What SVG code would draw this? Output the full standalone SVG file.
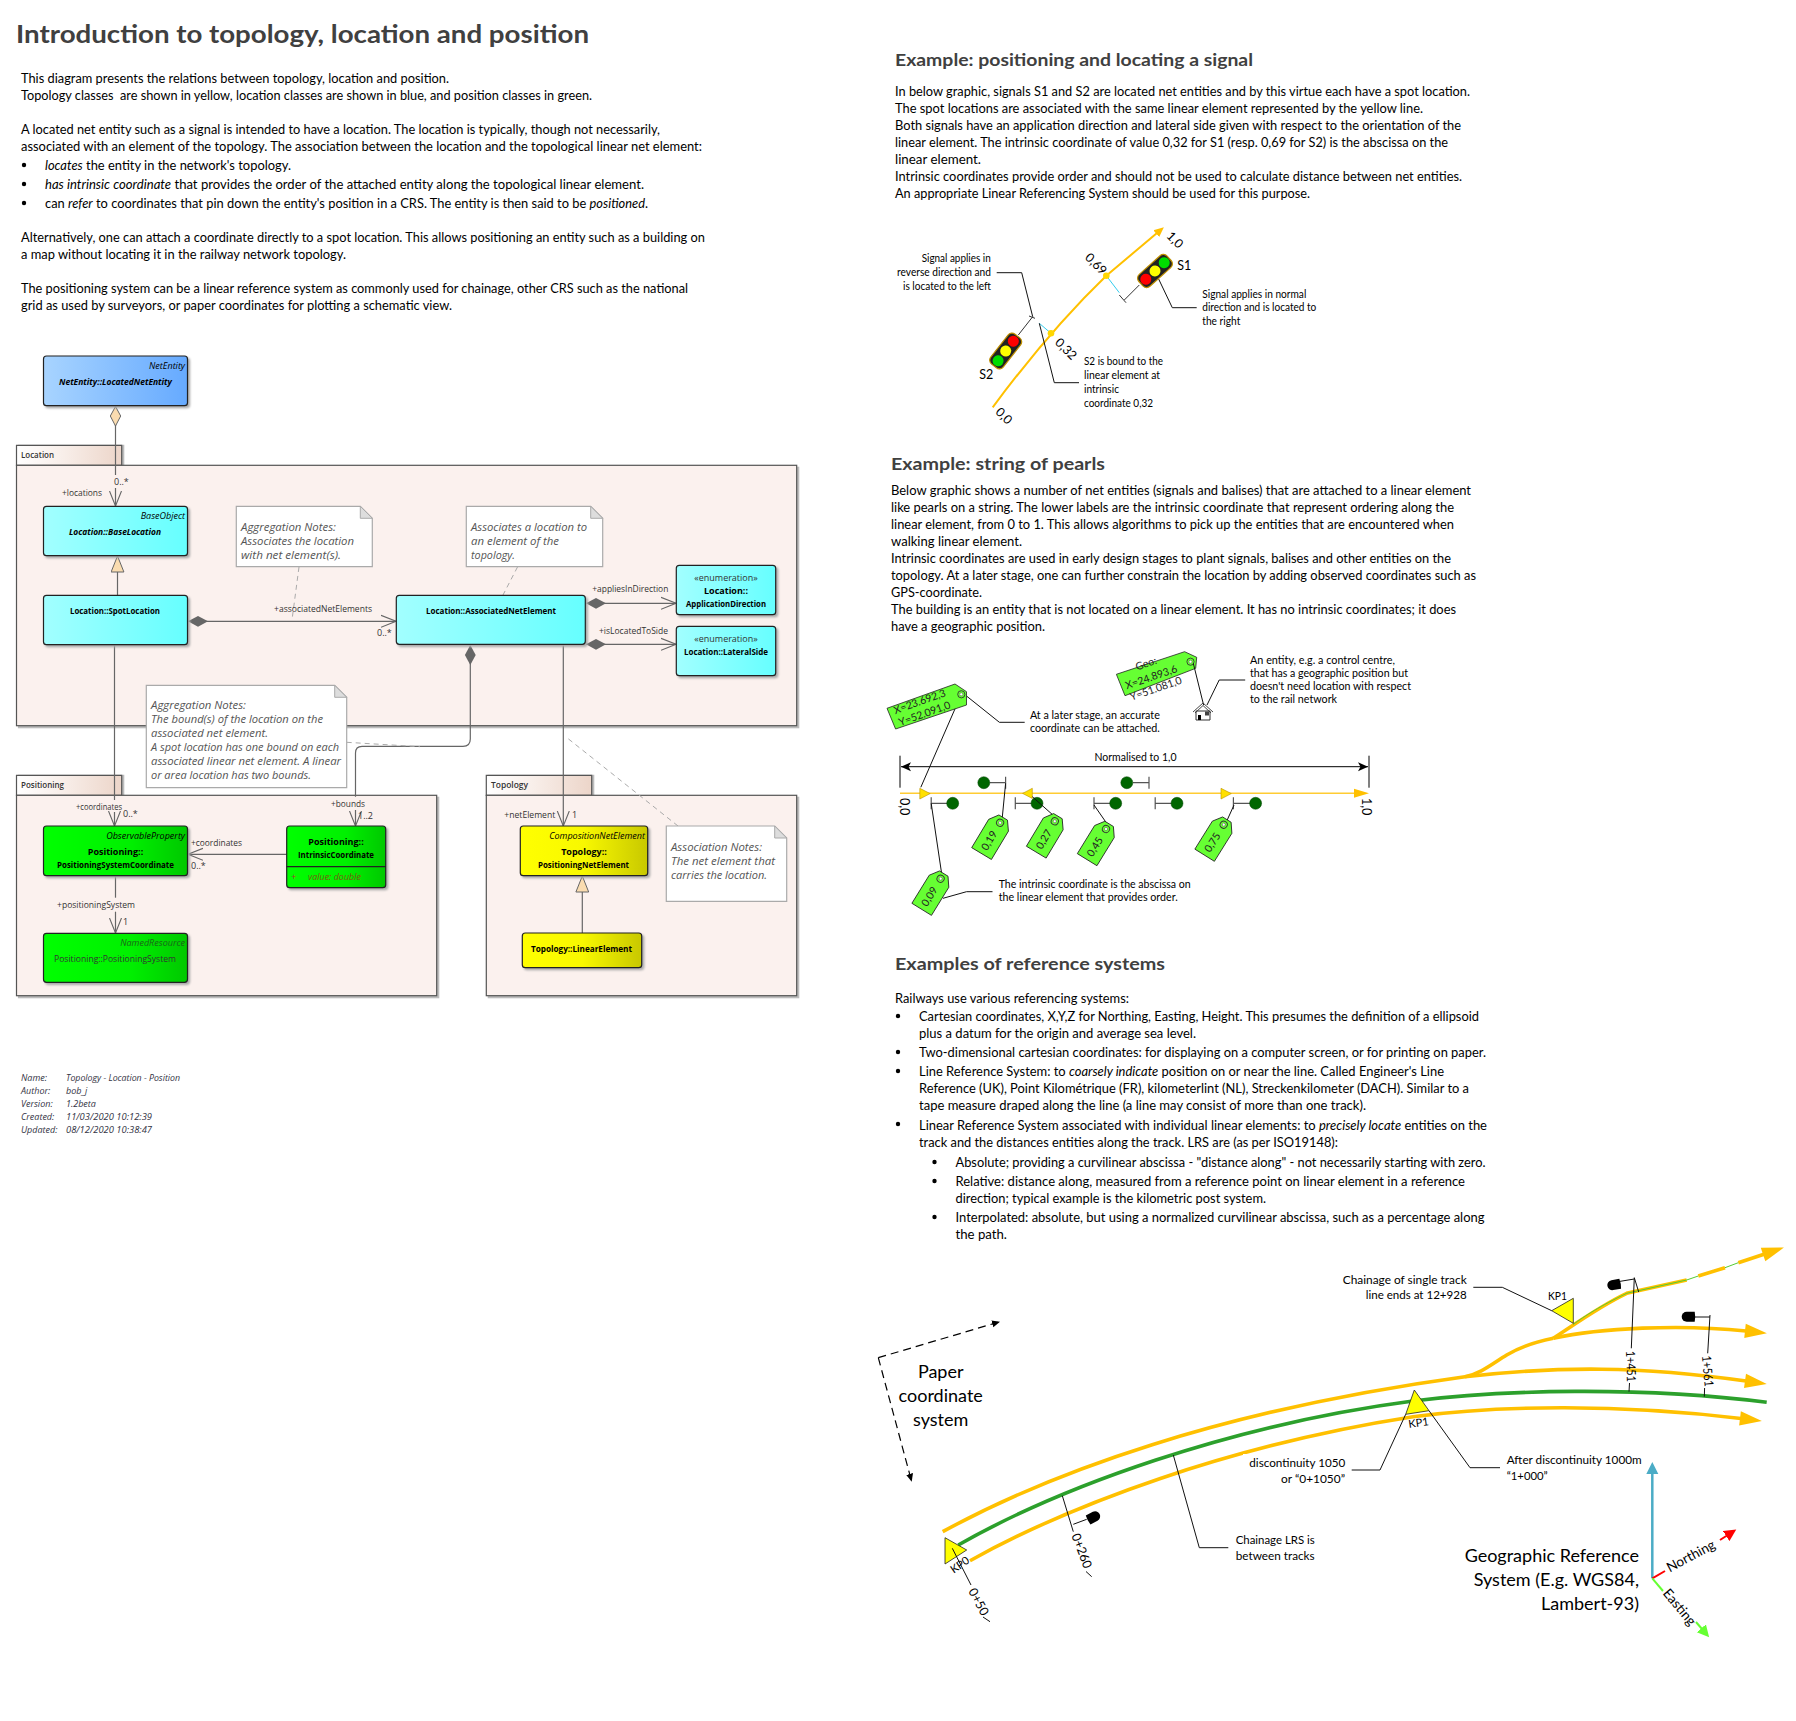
<svg xmlns="http://www.w3.org/2000/svg" width="1796" height="1721" viewBox="0 0 1796 1721">
<style>
text{font-family:"Lato","Liberation Sans",sans-serif;fill:#000;white-space:pre}
.t{font-size:24px;font-weight:700;fill:#404040}
.h{font-size:17px;font-weight:700;fill:#404040}
.b{font-size:13px}
.s{font-size:11px}
.r{font-size:12.5px}
.g{font-size:18px}
.u,.ub,.ui,.ubi,.n,.m,.p{font-family:"Open Sans","Liberation Sans",sans-serif}
.u{font-size:9px;fill:#333}
.p{font-size:9px;font-weight:600;fill:#333}
.ub{font-size:9px;font-weight:700;fill:#000}
.ui{font-size:9px;font-style:italic;fill:#000}
.ubi{font-size:9px;font-weight:700;font-style:italic;fill:#000}
.n{font-size:10.5px;font-style:italic;fill:#555}
.m{font-size:9px;font-style:italic;fill:#334}
.pk{fill:#fbf1ee;stroke:#555;stroke-width:1.2;filter:drop-shadow(2.5px 2.5px 0 #bbb)}
.tab{fill:url(#gt);stroke:#555;stroke-width:1.2;filter:drop-shadow(2.5px 0 0 #bbb)}
.bx{stroke:#222;stroke-width:1.2;filter:drop-shadow(2.5px 2.5px 1px #aaa)}
.lnk{fill:none;stroke:#666;stroke-width:1.2}
.dsh{fill:none;stroke:#aaa;stroke-width:1;stroke-dasharray:5 4}
.nt{fill:#fff;stroke:#aaa;stroke-width:1.2}
.fd{fill:#ddd;stroke:#aaa;stroke-width:1}
.bl{fill:none;stroke:#111;stroke-width:1}
.tk{fill:none;stroke:#ffc000;stroke-width:3.6}
.tg{fill:#66ff33;stroke:#222;stroke-width:.8}
.tv{font-size:10.5px;fill:#222}
.bal{fill:#006600;stroke:#004400;stroke-width:.5}
.st{fill:none;stroke:#555;stroke-width:1.2}
</style>
<defs>
<linearGradient id="gt"><stop offset="0" stop-color="#fff"/><stop offset=".45" stop-color="#f8eee9"/><stop offset="1" stop-color="#ecd5c9"/></linearGradient>
<linearGradient id="gb"><stop offset="0" stop-color="#a8d4ff"/><stop offset="1" stop-color="#66aaff"/></linearGradient>
<linearGradient id="gc"><stop offset="0" stop-color="#a2ffff"/><stop offset="1" stop-color="#66ffff"/></linearGradient>
<linearGradient id="gg"><stop offset="0" stop-color="#00ff00"/><stop offset=".6" stop-color="#00f000"/><stop offset="1" stop-color="#00c800"/></linearGradient>
<linearGradient id="gy"><stop offset="0" stop-color="#ffff00"/><stop offset=".5" stop-color="#f8f800"/><stop offset="1" stop-color="#c8c800"/></linearGradient>
<marker id="open" markerUnits="userSpaceOnUse" markerWidth="16" markerHeight="14" refX="15" refY="7" orient="auto"><path d="M0,1 L15,7 L0,13" fill="none" stroke="#666" stroke-width="1.1"/></marker>
<marker id="dia" markerUnits="userSpaceOnUse" markerWidth="22" markerHeight="12" refX="0" refY="6" orient="auto"><path d="M0,6 L10,.6 L20,6 L10,11.4Z" fill="#666"/></marker>
<marker id="hdia" markerUnits="userSpaceOnUse" markerWidth="22" markerHeight="12" refX="0" refY="6" orient="auto"><path d="M.5,6 L10,.8 L20,6 L10,11.2Z" fill="#fadcb0" stroke="#666"/></marker>
<marker id="tri" markerUnits="userSpaceOnUse" markerWidth="18" markerHeight="14" refX="16.5" refY="7" orient="auto"><path d="M.5,.6 L16.5,7 L.5,13.4Z" fill="#fadcb0" stroke="#666"/></marker>
<marker id="agb" markerUnits="userSpaceOnUse" markerWidth="24" markerHeight="16" refX="1" refY="8" orient="auto" overflow="visible"><path d="M0,.8 L22,8 L0,15.2Z" fill="#ffc000"/></marker>
<marker id="ags" markerUnits="userSpaceOnUse" markerWidth="12" markerHeight="10" refX="1" refY="5" orient="auto"><path d="M0,.5 L10,5 L0,9.5Z" fill="#ffc000"/></marker>
<marker id="ak" markerUnits="userSpaceOnUse" markerWidth="12" markerHeight="10" refX="10" refY="5" orient="auto-start-reverse"><path d="M0,.5 L10,5 L0,9.5 L2.5,5Z" fill="#000"/></marker>
<marker id="akd" markerUnits="userSpaceOnUse" markerWidth="10" markerHeight="8" refX="8" refY="4" orient="auto"><path d="M0,.5 L8,4 L0,7.5Z" fill="#000"/></marker>
<marker id="abl" markerUnits="userSpaceOnUse" markerWidth="13" markerHeight="13" refX="1" refY="6.5" orient="auto"><path d="M0,.5 L12,6.5 L0,12.5Z" fill="#4bacc6"/></marker>
<marker id="are" markerUnits="userSpaceOnUse" markerWidth="13" markerHeight="13" refX="1" refY="6.5" orient="auto"><path d="M0,.5 L12,6.5 L0,12.5Z" fill="#ff0000"/></marker>
<marker id="agr" markerUnits="userSpaceOnUse" markerWidth="13" markerHeight="13" refX="1" refY="6.5" orient="auto"><path d="M0,.5 L12,6.5 L0,12.5Z" fill="#66ff33"/></marker>
<g id="tag"><path class="tg" d="M-5,-6 L5,-6 L11.5,3 V36 H-11.5 V3Z"/><circle r="3.6" fill="none" stroke="#333" stroke-width=".9"/><circle r="1.5" fill="#fff" stroke="#333" stroke-width=".4"/></g>
<g id="hole"><circle r="3.6" fill="none" stroke="#333" stroke-width=".9"/><circle r="1.5" fill="#fff" stroke="#333" stroke-width=".4"/></g>
<g id="sig"><rect x="-19" y="-8" width="38" height="16" rx="5" fill="#222" stroke="#c09000" stroke-width="1.2"/><circle cx="-12.4" r="5.5" fill="#ff0000"/><circle r="5.5" fill="#ffff00"/><circle cx="12.4" r="5.5" fill="#00dd00"/></g>
<path id="blob" d="M-7,-5 H1 A5,5 0 0 1 1,5 H-7 Q-8,0 -7,-5Z" fill="#000"/>
</defs>
<rect width="1796" height="1721" fill="#fff"/>

<g id="intro">
<text class="t" x="16" y="43" textLength="573" lengthAdjust="spacingAndGlyphs">Introduction to topology, location and position</text>
<text class="b" x="21" y="83" textLength="428" lengthAdjust="spacingAndGlyphs">This diagram presents the relations between topology, location and position.</text>
<text class="b" x="21" y="100" textLength="571" lengthAdjust="spacingAndGlyphs">Topology classes  are shown in yellow, location classes are shown in blue, and position classes in green.</text>
<text class="b" x="21" y="134" textLength="639" lengthAdjust="spacingAndGlyphs">A located net entity such as a signal is intended to have a location. The location is typically, though not necessarily,</text>
<text class="b" x="21" y="151" textLength="681" lengthAdjust="spacingAndGlyphs">associated with an element of the topology. The association between the location and the topological linear net element:</text>
<circle cx="24" cy="165" r="2.2"/><circle cx="24" cy="184" r="2.2"/><circle cx="24" cy="203" r="2.2"/>
<text class="b" x="45" y="170" textLength="246" lengthAdjust="spacingAndGlyphs"><tspan font-style="italic">locates</tspan> the entity in the network's topology.</text>
<text class="b" x="45" y="189" textLength="599" lengthAdjust="spacingAndGlyphs"><tspan font-style="italic">has intrinsic coordinate</tspan> that provides the order of the attached entity along the topological linear element.</text>
<text class="b" x="45" y="208" textLength="603" lengthAdjust="spacingAndGlyphs">can <tspan font-style="italic">refer</tspan> to coordinates that pin down the entity's position in a CRS. The entity is then said to be <tspan font-style="italic">positioned</tspan>.</text>
<text class="b" x="21" y="242" textLength="684" lengthAdjust="spacingAndGlyphs">Alternatively, one can attach a coordinate directly to a spot location. This allows positioning an entity such as a building on</text>
<text class="b" x="21" y="259" textLength="325" lengthAdjust="spacingAndGlyphs">a map without locating it in the railway network topology.</text>
<text class="b" x="21" y="293" textLength="667" lengthAdjust="spacingAndGlyphs">The positioning system can be a linear reference system as commonly used for chainage, other CRS such as the national</text>
<text class="b" x="21" y="310" textLength="431" lengthAdjust="spacingAndGlyphs">grid as used by surveyors, or paper coordinates for plotting a schematic view.</text>
</g>

<g id="pkg-location"><path class="tab" d="M16.5,465.3 V445.3 H121.7 V465.3Z"/><rect class="pk" x="16.5" y="465.3" width="780.2" height="260.4"/><text class="p" x="21" y="458" textLength="33" lengthAdjust="spacingAndGlyphs">Location</text></g>
<g id="pkg-positioning"><path class="tab" d="M16.5,795.3 V775.3 H121.7 V795.3Z"/><rect class="pk" x="16.5" y="795.3" width="420.2" height="200.4"/><text class="p" x="21" y="788" textLength="43" lengthAdjust="spacingAndGlyphs">Positioning</text></g>
<g id="pkg-topology"><path class="tab" d="M486.3,795.3 V775.3 H591.7 V795.3Z"/><rect class="pk" x="486.3" y="795.3" width="310.4" height="200.4"/><text class="p" x="491" y="788" textLength="37" lengthAdjust="spacingAndGlyphs">Topology</text></g>

<g id="connectors">
<path class="lnk" d="M115.5,406 V475" marker-start="url(#hdia)"/>
<path class="lnk" d="M115.5,488 V506" marker-end="url(#open)"/>
<path class="lnk" d="M117.5,595 V556" marker-end="url(#tri)"/>
<path class="lnk" d="M188,621.3 H396" marker-start="url(#dia)" marker-end="url(#open)"/>
<path class="lnk" d="M586,603.3 H676" marker-start="url(#dia)" marker-end="url(#open)"/>
<path class="lnk" d="M586,644.3 H676" marker-start="url(#dia)" marker-end="url(#open)"/>
<path class="lnk" d="M470.3,645 V739 Q470.3,746.3 463,746.3 H362 Q355.5,746.3 355.5,753 V796.7" marker-start="url(#dia)"/>
<path class="lnk" d="M355.5,810 V826" marker-end="url(#open)"/>
<path class="lnk" d="M114.5,645 V800"/>
<path class="lnk" d="M114.5,812 V826" marker-end="url(#open)"/>
<path class="lnk" d="M563.3,644 V826" marker-end="url(#open)"/>
<path class="lnk" d="M286.7,854.3 H188" marker-end="url(#open)"/>
<path class="lnk" d="M115.5,876 V897.7"/>
<path class="lnk" d="M115.5,911.7 V933" marker-end="url(#open)"/>
<path class="lnk" d="M582.3,933 V876" marker-end="url(#tri)"/>
<path class="dsh" d="M299,567 L292,620"/>
<path class="dsh" d="M517.5,567 L503,595"/>
<path class="dsh" d="M346.7,742.3 L420,746.7"/>
<path class="dsh" d="M678,826 L566,737"/>
<text class="u" x="114" y="485">0..*</text>
<text class="u" x="62" y="496" textLength="40" lengthAdjust="spacingAndGlyphs">+locations</text>
<text class="u" x="274" y="611.7" textLength="98" lengthAdjust="spacingAndGlyphs">+associatedNetElements</text>
<text class="u" x="377" y="636">0..*</text>
<text class="u" x="592.3" y="591.7" textLength="76" lengthAdjust="spacingAndGlyphs">+appliesInDirection</text>
<text class="u" x="599" y="634" textLength="69" lengthAdjust="spacingAndGlyphs">+isLocatedToSide</text>
<text class="u" x="76" y="809.7" textLength="46" lengthAdjust="spacingAndGlyphs">+coordinates</text>
<text class="u" x="123" y="817.3">0..*</text>
<text class="u" x="191" y="846" textLength="51" lengthAdjust="spacingAndGlyphs">+coordinates</text>
<text class="u" x="191" y="869">0..*</text>
<text class="u" x="331" y="806.7" textLength="34" lengthAdjust="spacingAndGlyphs">+bounds</text>
<text class="u" x="358" y="819">1..2</text>
<text class="u" x="57" y="908" textLength="78" lengthAdjust="spacingAndGlyphs">+positioningSystem</text>
<text class="u" x="123" y="925">1</text>
<text class="u" x="504.3" y="818" textLength="51" lengthAdjust="spacingAndGlyphs">+netElement</text>
<text class="u" x="572" y="818">1</text>
</g>

<g id="LocatedNetEntity"><rect class="bx" x="43.5" y="356" width="144" height="49.7" rx="3" fill="url(#gb)"/><text class="ui" x="185" y="369" text-anchor="end">NetEntity</text><text class="ubi" x="59" y="385" textLength="113" lengthAdjust="spacingAndGlyphs">NetEntity::LocatedNetEntity</text></g>
<g id="BaseLocation"><rect class="bx" x="43.5" y="506.3" width="144" height="49.4" rx="3" fill="url(#gc)"/><text class="ui" x="185" y="519" text-anchor="end">BaseObject</text><text class="ubi" x="69" y="535" textLength="92" lengthAdjust="spacingAndGlyphs">Location::BaseLocation</text></g>
<g id="SpotLocation"><rect class="bx" x="43.5" y="595.3" width="144" height="49.4" rx="3" fill="url(#gc)"/><text class="ub" x="70" y="614" textLength="90" lengthAdjust="spacingAndGlyphs">Location::SpotLocation</text></g>
<g id="AssociatedNetElement"><rect class="bx" x="396.3" y="595.3" width="189" height="49" rx="3" fill="url(#gc)"/><text class="ub" x="426" y="614" textLength="130" lengthAdjust="spacingAndGlyphs">Location::AssociatedNetElement</text></g>
<g id="ApplicationDirection"><rect class="bx" x="676.3" y="565.3" width="99.4" height="49.4" rx="3" fill="url(#gc)" stroke="#444"/><text class="u" x="726" y="580.7" text-anchor="middle">«enumeration»</text><text class="ub" x="726" y="594" text-anchor="middle">Location::</text><text class="ub" x="686" y="607" textLength="80" lengthAdjust="spacingAndGlyphs">ApplicationDirection</text></g>
<g id="LateralSide"><rect class="bx" x="676.3" y="626.3" width="99.4" height="49.4" rx="3" fill="url(#gc)" stroke="#444"/><text class="u" x="726" y="641.7" text-anchor="middle">«enumeration»</text><text class="ub" x="684" y="655" textLength="84" lengthAdjust="spacingAndGlyphs">Location::LateralSide</text></g>
<g id="PositioningSystemCoordinate"><rect class="bx" x="43.5" y="826" width="144" height="49.7" rx="3" fill="url(#gg)"/><text class="ui" x="185" y="839" text-anchor="end">ObservableProperty</text><text class="ub" x="115.5" y="855" text-anchor="middle">Positioning::</text><text class="ub" x="57" y="867.7" textLength="117" lengthAdjust="spacingAndGlyphs">PositioningSystemCoordinate</text></g>
<g id="IntrinsicCoordinate"><rect class="bx" x="286.7" y="826" width="99" height="61.7" rx="3" fill="url(#gg)"/><path d="M286.7,866.7 H385.7" stroke="#222" stroke-width="1.2"/><text class="ub" x="336" y="845" text-anchor="middle">Positioning::</text><text class="ub" x="298" y="857.7" textLength="76" lengthAdjust="spacingAndGlyphs">IntrinsicCoordinate</text><text class="ui" x="291" y="879.7" style="fill:#a33">+</text><text class="ui" x="308" y="879.7" textLength="53" lengthAdjust="spacingAndGlyphs" style="fill:#7a5a10">value: double</text></g>
<g id="PositioningSystem"><rect class="bx" x="43.5" y="933.3" width="144" height="49" rx="3" fill="url(#gg)" stroke="#555"/><text class="ui" x="185" y="945.7" text-anchor="end" style="fill:#1a661a">NamedResource</text><text class="u" x="54" y="961.7" textLength="122" lengthAdjust="spacingAndGlyphs">Positioning::PositioningSystem</text></g>
<g id="PositioningNetElement"><rect class="bx" x="520.3" y="826" width="127.4" height="49.7" rx="3" fill="url(#gy)"/><text class="ui" x="645" y="839" text-anchor="end">CompositionNetElement</text><text class="ub" x="584" y="855" text-anchor="middle">Topology::</text><text class="ub" x="538" y="867.7" textLength="91" lengthAdjust="spacingAndGlyphs">PositioningNetElement</text></g>
<g id="LinearElement"><rect class="bx" x="522.3" y="933" width="119.4" height="34.7" rx="3" fill="url(#gy)"/><text class="ub" x="531" y="952" textLength="101" lengthAdjust="spacingAndGlyphs">Topology::LinearElement</text></g>

<g id="note-aggregation-1"><path class="nt" d="M236.3,506.3 H360.3 L372.3,518.3 V566.7 H236.3Z"/><path class="fd" d="M360.3,506.3 L372.3,518.3 H360.3Z"/><text class="n" x="241" y="530.7" textLength="95" lengthAdjust="spacingAndGlyphs">Aggregation Notes:</text><text class="n" x="241" y="545" textLength="113" lengthAdjust="spacingAndGlyphs">Associates the location</text><text class="n" x="241" y="559" textLength="100" lengthAdjust="spacingAndGlyphs">with net element(s).</text></g>
<g id="note-associates"><path class="nt" d="M466.3,506.3 H590.7 L602.7,518.3 V566.7 H466.3Z"/><path class="fd" d="M590.7,506.3 L602.7,518.3 H590.7Z"/><text class="n" x="471" y="530.7" textLength="116" lengthAdjust="spacingAndGlyphs">Associates a location to</text><text class="n" x="471" y="545" textLength="88" lengthAdjust="spacingAndGlyphs">an element of the</text><text class="n" x="471" y="559" textLength="44" lengthAdjust="spacingAndGlyphs">topology.</text></g>
<g id="note-aggregation-2"><path class="nt" d="M146.3,685.3 H334.7 L346.7,697.3 V787.7 H146.3Z"/><path class="fd" d="M334.7,685.3 L346.7,697.3 H334.7Z"/><text class="n" x="151" y="709.3" textLength="95" lengthAdjust="spacingAndGlyphs">Aggregation Notes:</text><text class="n" x="151" y="723.3" textLength="172" lengthAdjust="spacingAndGlyphs">The bound(s) of the location on the</text><text class="n" x="151" y="737.3" textLength="117" lengthAdjust="spacingAndGlyphs">associated net element.</text><text class="n" x="151" y="751.3" textLength="188" lengthAdjust="spacingAndGlyphs">A spot location has one bound on each</text><text class="n" x="151" y="765.3" textLength="190" lengthAdjust="spacingAndGlyphs">associated linear net element. A linear</text><text class="n" x="151" y="779.3" textLength="160" lengthAdjust="spacingAndGlyphs">or area location has two bounds.</text></g>
<g id="note-association"><path class="nt" d="M666.3,826 H774.7 L786.7,838 V901.3 H666.3Z"/><path class="fd" d="M774.7,826 L786.7,838 H774.7Z"/><text class="n" x="671" y="850.7" textLength="91" lengthAdjust="spacingAndGlyphs">Association Notes:</text><text class="n" x="671" y="865" textLength="104" lengthAdjust="spacingAndGlyphs">The net element that</text><text class="n" x="671" y="879" textLength="96" lengthAdjust="spacingAndGlyphs">carries the location.</text></g>

<g id="metadata">
<text class="m" x="21" y="1080.7">Name:</text><text class="m" x="66" y="1080.7" textLength="114" lengthAdjust="spacingAndGlyphs">Topology - Location - Position</text>
<text class="m" x="21" y="1093.7">Author:</text><text class="m" x="66" y="1093.7">bob_j</text>
<text class="m" x="21" y="1106.7">Version:</text><text class="m" x="66" y="1106.7">1.2beta</text>
<text class="m" x="21" y="1119.7">Created:</text><text class="m" x="66" y="1119.7" textLength="86" lengthAdjust="spacingAndGlyphs">11/03/2020 10:12:39</text>
<text class="m" x="21" y="1132.7">Updated:</text><text class="m" x="66" y="1132.7" textLength="86" lengthAdjust="spacingAndGlyphs">08/12/2020 10:38:47</text>
</g>

<g id="example-signal-text">
<text class="h" x="895" y="66" textLength="358" lengthAdjust="spacingAndGlyphs">Example: positioning and locating a signal</text>
<text class="b" x="895" y="96" textLength="575" lengthAdjust="spacingAndGlyphs">In below graphic, signals S1 and S2 are located net entities and by this virtue each have a spot location.</text>
<text class="b" x="895" y="113" textLength="528" lengthAdjust="spacingAndGlyphs">The spot locations are associated with the same linear element represented by the yellow line.</text>
<text class="b" x="895" y="130" textLength="566" lengthAdjust="spacingAndGlyphs">Both signals have an application direction and lateral side given with respect to the orientation of the</text>
<text class="b" x="895" y="147" textLength="553" lengthAdjust="spacingAndGlyphs">linear element. The intrinsic coordinate of value 0,32 for S1 (resp. 0,69 for S2) is the abscissa on the</text>
<text class="b" x="895" y="164" textLength="86" lengthAdjust="spacingAndGlyphs">linear element.</text>
<text class="b" x="895" y="181" textLength="567" lengthAdjust="spacingAndGlyphs">Intrinsic coordinates provide order and should not be used to calculate distance between net entities.</text>
<text class="b" x="895" y="198" textLength="415" lengthAdjust="spacingAndGlyphs">An appropriate Linear Referencing System should be used for this purpose.</text>
</g>

<g id="example-signal-diagram">
<path d="M992.7,407.3 Q1050,330 1106.3,275.7 L1157,233" fill="none" stroke="#ffc000" stroke-width="2" marker-end="url(#ags)"/>
<path d="M1106.3,275.7 L1119.3,292.7 M1051,333.3 L1039.3,323.3" stroke="#33ccee" stroke-width="1"/>
<path d="M1139.3,285 L1124.3,300 M1119.3,295 L1126,302.7 M1018.3,335 L1032.7,316.7 M1029,316 L1035,318.3" stroke="#333" stroke-width="1" fill="none"/>
<circle cx="1051" cy="333.3" r="3.3" fill="#ffd700"/><circle cx="1106.3" cy="275.7" r="3.3" fill="#ffd700"/>
<path class="bl" d="M996.7,272.7 H1021.7 L1032.7,316.7"/>
<path class="bl" d="M1158.3,278.3 L1172.3,307.7 H1196.7"/>
<path class="bl" d="M1039.3,323.3 L1054.3,382.7 H1079"/>
<use href="#sig" transform="translate(1155,271) rotate(-42)"/>
<use href="#sig" transform="translate(1005.7,351) rotate(128)"/>
<text class="r" text-anchor="middle" transform="translate(1172,243) rotate(45)">1,0</text>
<text class="r" text-anchor="middle" transform="translate(1093,267) rotate(45)">0,69</text>
<text class="r" text-anchor="middle" transform="translate(1063,352) rotate(45)">0,32</text>
<text class="r" text-anchor="middle" transform="translate(1001,419) rotate(45)">0,0</text>
<text class="r" x="1177.3" y="270">S1</text>
<text class="r" x="979.3" y="379">S2</text>
<text class="s" x="990.7" y="261.7" text-anchor="end" textLength="69" lengthAdjust="spacingAndGlyphs">Signal applies in</text>
<text class="s" x="991" y="275.7" text-anchor="end" textLength="94" lengthAdjust="spacingAndGlyphs">reverse direction and</text>
<text class="s" x="991" y="289.7" text-anchor="end" textLength="88" lengthAdjust="spacingAndGlyphs">is located to the left</text>
<text class="s" x="1202.3" y="297.7" textLength="104" lengthAdjust="spacingAndGlyphs">Signal applies in normal</text>
<text class="s" x="1202.3" y="311" textLength="114" lengthAdjust="spacingAndGlyphs">direction and is located to</text>
<text class="s" x="1202.3" y="325" textLength="38" lengthAdjust="spacingAndGlyphs">the right</text>
<text class="s" x="1084" y="365" textLength="79" lengthAdjust="spacingAndGlyphs">S2 is bound to the</text>
<text class="s" x="1084" y="379" textLength="76" lengthAdjust="spacingAndGlyphs">linear element at</text>
<text class="s" x="1084" y="393" textLength="35" lengthAdjust="spacingAndGlyphs">intrinsic</text>
<text class="s" x="1084" y="407" textLength="69" lengthAdjust="spacingAndGlyphs">coordinate 0,32</text>
</g>

<g id="example-pearls-text">
<text class="h" x="891" y="470" textLength="214" lengthAdjust="spacingAndGlyphs">Example: string of pearls</text>
<text class="b" x="891" y="495" textLength="580" lengthAdjust="spacingAndGlyphs">Below graphic shows a number of net entities (signals and balises) that are attached to a linear element</text>
<text class="b" x="891" y="512" textLength="563" lengthAdjust="spacingAndGlyphs">like pearls on a string. The lower labels are the intrinsic coordinate that represent ordering along the</text>
<text class="b" x="891" y="529" textLength="563" lengthAdjust="spacingAndGlyphs">linear element, from 0 to 1. This allows algorithms to pick up the entities that are encountered when</text>
<text class="b" x="891" y="546" textLength="131" lengthAdjust="spacingAndGlyphs">walking linear element.</text>
<text class="b" x="891" y="563" textLength="560" lengthAdjust="spacingAndGlyphs">Intrinsic coordinates are used in early design stages to plant signals, balises and other entities on the</text>
<text class="b" x="891" y="580" textLength="585" lengthAdjust="spacingAndGlyphs">topology. At a later stage, one can further constrain the location by adding observed coordinates such as</text>
<text class="b" x="891" y="597" textLength="91" lengthAdjust="spacingAndGlyphs">GPS-coordinate.</text>
<text class="b" x="891" y="614" textLength="565" lengthAdjust="spacingAndGlyphs">The building is an entity that is not located on a linear element. It has no intrinsic coordinates; it does</text>
<text class="b" x="891" y="631" textLength="154" lengthAdjust="spacingAndGlyphs">have a geographic position.</text>
</g>

<g id="example-pearls-diagram">
<path d="M900,793.3 H1354" stroke="#ffcc33" stroke-width="1.5"/><path d="M1354,788.8 L1369,793.3 L1354,797.8Z" fill="#ffc000"/>
<path d="M901,766.7 H1368" stroke="#000" stroke-width="1" marker-start="url(#ak)" marker-end="url(#ak)"/>
<path d="M900,755.7 V787.7 M1369,755.7 V787.7" stroke="#000" stroke-width="1"/>
<path d="M919.8,788.3 L930.2,793.6 L919.8,799Z M1221,788.3 L1231.3,793.6 L1221,799Z M1032.3,788.3 L1022.6,793.4 L1032.3,798.5Z" fill="#ffe000" stroke="#b89000" stroke-width=".6"/>
<path class="st" d="M931.2,797.3 V809.3 M931.2,803.3 H947 M1005.6,776.7 V788.7 M989.5,782.7 H1005.6 M1015.3,797.3 V809.3 M1015.3,803.3 H1031 M1094,797.3 V809.3 M1094,803.3 H1110 M1149,776.7 V788.7 M1133,782.7 H1149 M1155.2,797.3 V809.3 M1155.2,803.3 H1171 M1233.4,797.3 V809.3 M1233.4,803.3 H1250"/>
<circle class="bal" cx="952.7" cy="803.3" r="6"/><circle class="bal" cx="983.8" cy="782.7" r="6"/><circle class="bal" cx="1037" cy="803.3" r="6"/><circle class="bal" cx="1115.7" cy="803.3" r="6"/><circle class="bal" cx="1126.8" cy="782.7" r="6"/><circle class="bal" cx="1177" cy="803.3" r="6"/><circle class="bal" cx="1255.6" cy="803.3" r="6"/>
<path class="bl" d="M931.2,803.3 L941.6,873.3 M1005.6,783.3 L1002.2,818.3 M1032.3,796.7 L1054.8,816.7 M1094,805 L1106.7,823.3 M1234,805 L1226,822.7 M943,898.3 L966.5,891.7 H992.5"/>
<g transform="translate(940.6,878.7) rotate(31.7)"><use href="#tag"/><text class="tv" text-anchor="middle" transform="translate(3.5,21) rotate(-90)">0,09</text></g>
<g transform="translate(1000.1,822.7) rotate(31)"><use href="#tag"/><text class="tv" text-anchor="middle" transform="translate(3.5,21) rotate(-90)">0,19</text></g>
<g transform="translate(1054.8,821.3) rotate(31)"><use href="#tag"/><text class="tv" text-anchor="middle" transform="translate(3.5,21) rotate(-90)">0,27</text></g>
<g transform="translate(1106,829) rotate(31.6)"><use href="#tag"/><text class="tv" text-anchor="middle" transform="translate(3.5,21) rotate(-90)">0,45</text></g>
<g transform="translate(1223.7,824.7) rotate(32)"><use href="#tag"/><text class="tv" text-anchor="middle" transform="translate(3.5,21) rotate(-90)">0,75</text></g>
<path class="bl" d="M960.3,696.7 L920.8,787.3 M966.5,696 L999.4,722.3 H1024.7"/>
<path class="tg" d="M887,708.3 L955,684 L966.5,691.7 L966.5,705 L895.6,729Z"/>
<use href="#hole" transform="translate(961.3,694.3)"/>
<text class="tv" text-anchor="middle" transform="translate(920.8,705) rotate(-19.7)">X=23.692,3</text>
<text class="tv" text-anchor="middle" transform="translate(925.7,717) rotate(-19.7)">Y=52.091,0</text>
<path class="tg" d="M1116.4,674.3 L1184.6,651.7 L1196.7,657.3 L1195.7,668.3 L1125,695.7Z"/>
<use href="#hole" transform="translate(1190.5,661.7)"/>
<text class="tv" text-anchor="middle" transform="translate(1147.2,667) rotate(-19)">Geo:</text>
<text class="tv" text-anchor="middle" transform="translate(1152.4,680.5) rotate(-19)">X=24.893,6</text>
<text class="tv" text-anchor="middle" transform="translate(1157,692) rotate(-19)">Y=51.081,0</text>
<path class="bl" d="M1193.3,663.3 L1203.6,705 M1207,705 L1219.2,680 H1245.2"/>
<g id="house"><path d="M1196,711 H1210 V720 H1196Z" fill="#fff" stroke="#333" stroke-width="1"/><path d="M1193,712 L1203,703 L1213,712 M1195,713 L1203,705.5 L1211,713" fill="none" stroke="#333" stroke-width=".9"/><rect x="1198" y="715" width="3" height="5" fill="#000"/><rect x="1205" y="711.5" width="4" height="4" fill="#444"/></g>
<text class="s" x="1135.5" y="760.7" text-anchor="middle" textLength="82" lengthAdjust="spacingAndGlyphs">Normalised to 1,0</text>
<text class="r" transform="translate(899.5,798) rotate(90)">0,0</text>
<text class="r" transform="translate(1361.5,798) rotate(90)">1,0</text>
<text class="s" x="1029.9" y="719.3" textLength="130" lengthAdjust="spacingAndGlyphs">At a later stage, an accurate</text>
<text class="s" x="1029.9" y="732.3" textLength="130" lengthAdjust="spacingAndGlyphs">coordinate can be attached.</text>
<text class="s" x="1250" y="664" textLength="145" lengthAdjust="spacingAndGlyphs">An entity, e.g. a control centre,</text>
<text class="s" x="1250" y="677" textLength="158" lengthAdjust="spacingAndGlyphs">that has a geographic position but</text>
<text class="s" x="1250" y="690" textLength="161" lengthAdjust="spacingAndGlyphs">doesn't need location with respect</text>
<text class="s" x="1250" y="703" textLength="87" lengthAdjust="spacingAndGlyphs">to the rail network</text>
<text class="s" x="998.7" y="888.3" textLength="192" lengthAdjust="spacingAndGlyphs">The intrinsic coordinate is the abscissa on</text>
<text class="s" x="998.7" y="901.3" textLength="179" lengthAdjust="spacingAndGlyphs">the linear element that provides order.</text>
</g>

<g id="reference-text">
<text class="h" x="895" y="970" textLength="270" lengthAdjust="spacingAndGlyphs">Examples of reference systems</text>
<text class="b" x="895" y="1003" textLength="234" lengthAdjust="spacingAndGlyphs">Railways use various referencing systems:</text>
<circle cx="898" cy="1016" r="2.2"/><circle cx="898" cy="1052" r="2.2"/><circle cx="898" cy="1071" r="2.2"/><circle cx="898" cy="1124" r="2.2"/><circle cx="934.5" cy="1162" r="2.2"/><circle cx="934.5" cy="1181" r="2.2"/><circle cx="934.5" cy="1217" r="2.2"/>
<text class="b" x="919" y="1021" textLength="560" lengthAdjust="spacingAndGlyphs">Cartesian coordinates, X,Y,Z for Northing, Easting, Height. This presumes the definition of a ellipsoid</text>
<text class="b" x="919" y="1038" textLength="277" lengthAdjust="spacingAndGlyphs">plus a datum for the origin and average sea level.</text>
<text class="b" x="919" y="1057" textLength="567" lengthAdjust="spacingAndGlyphs">Two-dimensional cartesian coordinates: for displaying on a computer screen, or for printing on paper.</text>
<text class="b" x="919" y="1076" textLength="525" lengthAdjust="spacingAndGlyphs">Line Reference System: to <tspan font-style="italic">coarsely indicate</tspan> position on or near the line. Called Engineer's Line</text>
<text class="b" x="919" y="1093" textLength="550" lengthAdjust="spacingAndGlyphs">Reference (UK), Point Kilométrique (FR), kilometerlint (NL), Streckenkilometer (DACH). Similar to a</text>
<text class="b" x="919" y="1110" textLength="447" lengthAdjust="spacingAndGlyphs">tape measure draped along the line (a line may consist of more than one track).</text>
<text class="b" x="919" y="1129.5" textLength="568" lengthAdjust="spacingAndGlyphs">Linear Reference System associated with individual linear elements: to <tspan font-style="italic">precisely locate</tspan> entities on the</text>
<text class="b" x="919" y="1146.5" textLength="419" lengthAdjust="spacingAndGlyphs">track and the distances entities along the track. LRS are (as per ISO19148):</text>
<text class="b" x="955.5" y="1167" textLength="530" lengthAdjust="spacingAndGlyphs">Absolute; providing a curvilinear abscissa - "distance along" - not necessarily starting with zero.</text>
<text class="b" x="955.5" y="1186" textLength="509.5" lengthAdjust="spacingAndGlyphs">Relative: distance along, measured from a reference point on linear element in a reference</text>
<text class="b" x="955.5" y="1203" textLength="310.5" lengthAdjust="spacingAndGlyphs">direction; typical example is the kilometric post system.</text>
<text class="b" x="955.5" y="1222" textLength="529" lengthAdjust="spacingAndGlyphs">Interpolated: absolute, but using a normalized curvilinear abscissa, such as a percentage along</text>
<text class="b" x="955.5" y="1239" textLength="51.5" lengthAdjust="spacingAndGlyphs">the path.</text>
</g>

<g id="reference-diagram">
<path d="M878.3,1357.7 L1000,1321.7" fill="none" stroke="#000" stroke-width="1.2" stroke-dasharray="8 5" marker-end="url(#akd)"/>
<path d="M878.3,1357.7 L911.7,1481.7" fill="none" stroke="#000" stroke-width="1.2" stroke-dasharray="8 5" marker-end="url(#akd)"/>
<text class="g" x="940.7" y="1377.7" text-anchor="middle">Paper</text><text class="g" x="940.7" y="1401.7" text-anchor="middle">coordinate</text><text class="g" x="940.7" y="1426" text-anchor="middle">system</text>

<path class="tk" d="M942.7,1531.7 C1050,1473 1220,1410 1465,1376.7 C1560,1366 1640,1366 1746,1381" marker-end="url(#agb)"/>
<path d="M958.3,1545 C1060,1487 1230,1425 1413,1401 C1500,1390 1640,1386 1766.7,1402.3" fill="none" stroke="#2ca02c" stroke-width="3.6"/>
<path class="tk" d="M970,1560.7 C1070,1505 1230,1445 1413,1416.7 C1500,1405 1620,1404 1741,1418.5" marker-end="url(#agb)"/>
<path class="tk" d="M1465,1376.7 C1480,1374 1492,1364 1506.7,1355 C1520,1347 1535,1342 1553.3,1338.3"/>
<path class="tk" d="M1553.3,1338.3 C1600,1328 1680,1324 1746,1331" marker-end="url(#agb)"/>
<path class="tk" d="M1553.3,1338.3 C1575,1324 1600,1306 1626.7,1293.3 L1686.7,1280 M1698.3,1276 L1725,1267.7"/>
<path class="tk" d="M1738.3,1262.7 L1764,1254.2" marker-end="url(#agb)"/>
<path d="M1573,1324.5 C1585,1316 1600,1306 1626.7,1293.3 L1686.7,1280 L1698.3,1276 M1725,1267.7 L1738.3,1262.7" fill="none" stroke="#55cc33" stroke-width="1"/>
<rect x="1243" y="1454" width="108" height="32" fill="#fff"/>

<path d="M1573.3,1298.3 V1323.3 L1551.7,1310.7Z M1414.3,1390 L1429,1410.7 L1405.7,1414.3Z M945,1537.7 L966.7,1550 L945,1564Z" fill="#ffff00" stroke="#222" stroke-width=".8"/>
<path class="bl" d="M1473.3,1287.3 H1502.3 L1551.7,1310.7"/>
<path class="bl" d="M1405.7,1414.3 L1380,1470 H1351.7"/>
<path class="bl" d="M1429,1410.7 L1470,1467.7 H1500"/>
<path class="bl" d="M1173.3,1455 L1199.3,1547.7 H1228.3"/>
<path class="bl" d="M952.3,1548.3 L971,1585"/>
<path class="bl" d="M1062.3,1495.7 L1073.3,1531.7 M1073.3,1524.3 L1086.7,1519.3"/>
<path class="bl" d="M1634.3,1277.7 L1631.3,1348.3 M1629.5,1383 L1629,1391.7 M1634.3,1277.7 L1638.7,1292 M1616,1282 L1634.3,1279"/>
<path class="bl" d="M1710,1315 L1707.7,1353.3 M1704.6,1388 L1704.3,1396.7 M1694,1317 H1710"/>
<use href="#blob" transform="translate(1613.3,1285) rotate(170)"/>
<use href="#blob" transform="translate(1687.7,1316.7) rotate(180)"/>
<use href="#blob" transform="translate(1094.3,1516.7) rotate(-28)"/>
<text class="s" x="1548" y="1300" textLength="19" lengthAdjust="spacingAndGlyphs">KP1</text>
<text class="s" text-anchor="middle" transform="translate(1419,1426.5) rotate(-8)">KP1</text>
<text class="s" text-anchor="middle" transform="translate(962,1568) rotate(-35)">KP0</text>
<text class="s" x="1466.7" y="1284" text-anchor="end" textLength="124" lengthAdjust="spacingAndGlyphs">Chainage of single track</text>
<text class="s" x="1466.7" y="1299.3" text-anchor="end" textLength="101" lengthAdjust="spacingAndGlyphs">line ends at 12+928</text>
<text class="s" x="1506.7" y="1464.3" textLength="135" lengthAdjust="spacingAndGlyphs">After discontinuity 1000m</text>
<text class="s" x="1506.7" y="1480" textLength="41" lengthAdjust="spacingAndGlyphs">“1+000”</text>
<text class="s" x="1345.3" y="1466.7" text-anchor="end" textLength="96" lengthAdjust="spacingAndGlyphs">discontinuity 1050</text>
<text class="s" x="1345" y="1482.7" text-anchor="end" textLength="64" lengthAdjust="spacingAndGlyphs">or “0+1050”</text>
<text class="s" x="1235.7" y="1544.3" textLength="79" lengthAdjust="spacingAndGlyphs">Chainage LRS is</text>
<text class="s" x="1235.7" y="1560.3" textLength="79" lengthAdjust="spacingAndGlyphs">between tracks</text>
<text class="r" transform="translate(1626,1351) rotate(88)" textLength="31" lengthAdjust="spacingAndGlyphs">1+451</text>
<text class="r" transform="translate(1702,1356) rotate(85)" textLength="31" lengthAdjust="spacingAndGlyphs">1+561</text>
<text class="r" transform="translate(968,1591) rotate(62)" textLength="29" lengthAdjust="spacingAndGlyphs">0+50</text>
<text class="r" transform="translate(1071.3,1535.5) rotate(69)" textLength="36" lengthAdjust="spacingAndGlyphs">0+260</text>
<path class="bl" d="M983,1617 L990,1621.7 M1086,1571.5 L1091.7,1576.7"/>

<path d="M1652.3,1578.3 V1473" stroke="#4bacc6" stroke-width="2.5" marker-end="url(#abl)"/>
<path d="M1652.3,1578.3 L1665,1571" stroke="#ff0000" stroke-width="2"/>
<path d="M1720,1540 L1727,1535.5" stroke="#ff0000" stroke-width="2" marker-end="url(#are)"/>
<path d="M1652.3,1578.3 L1663,1591" stroke="#66ff33" stroke-width="2"/>
<path d="M1696,1622 L1702,1629" stroke="#66ff33" stroke-width="2" marker-end="url(#agr)"/>
<text class="s" style="font-size:13.5px" text-anchor="middle" transform="translate(1693,1560) rotate(-28)">Northing</text>
<text class="s" style="font-size:13.5px" text-anchor="middle" transform="translate(1676,1610) rotate(50)">Easting</text>
<text class="g" x="1639" y="1561.7" text-anchor="end">Geographic Reference</text>
<text class="g" x="1639" y="1586" text-anchor="end">System (E.g. WGS84,</text>
<text class="g" x="1639" y="1610" text-anchor="end">Lambert-93)</text>
</g>
</svg>
